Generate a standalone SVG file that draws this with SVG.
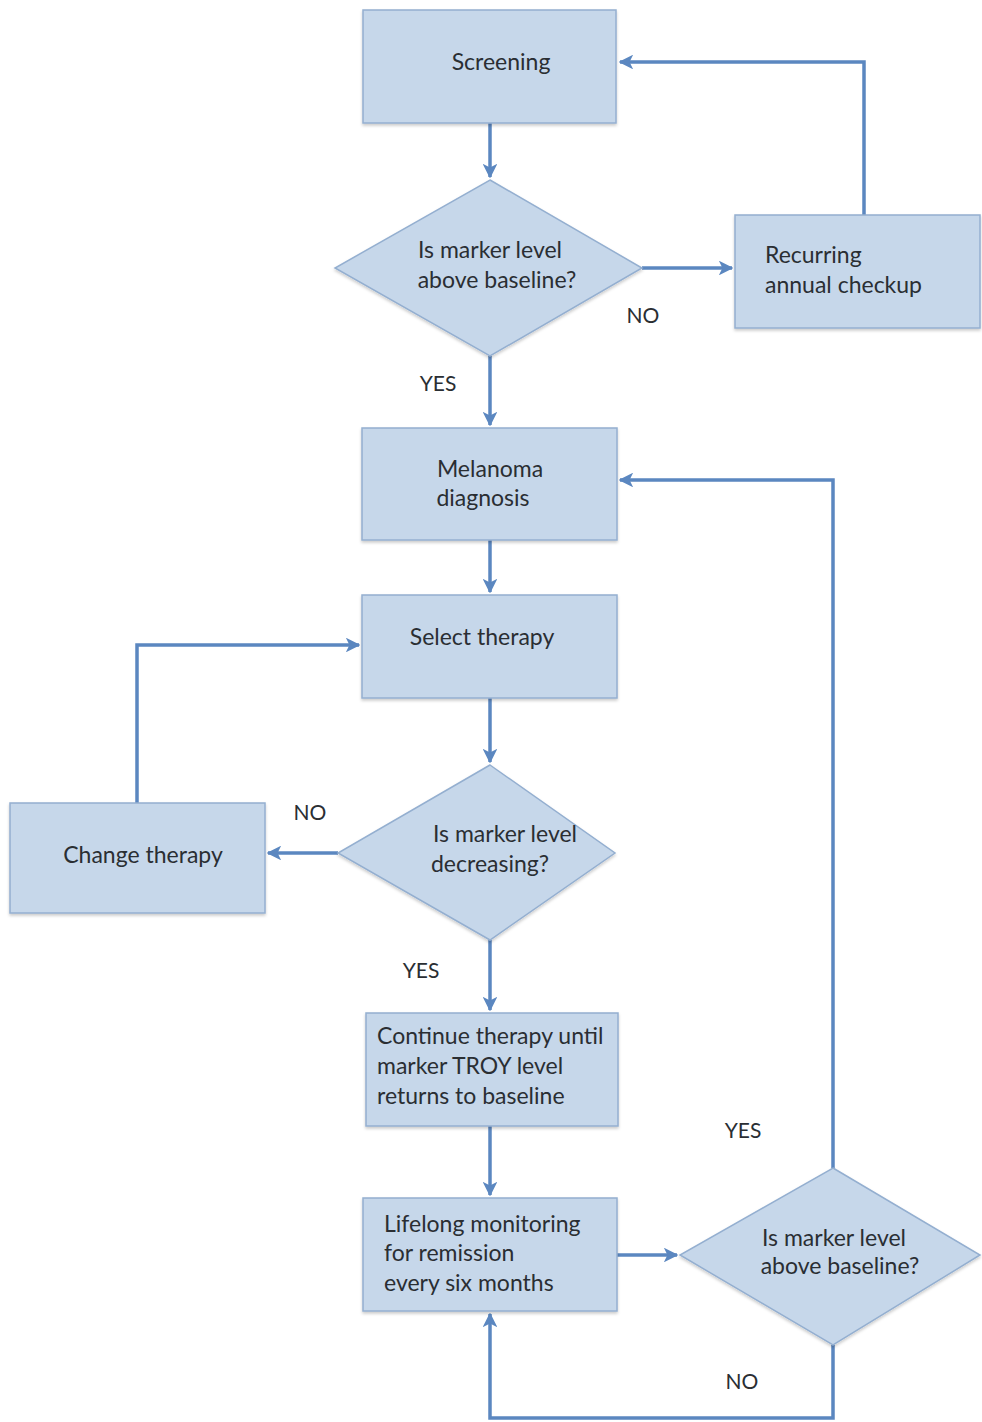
<svg xmlns="http://www.w3.org/2000/svg" width="982" height="1422" viewBox="0 0 982 1422">
<style>
.box{fill:#c6d7ea;stroke:#94afd0;stroke-width:1.5}
.t{font-family:Lato,"Open Sans","Liberation Sans",sans-serif;font-size:23px;fill:#2a2e33}
.c{text-anchor:middle}
.lbl{font-family:Lato,"Open Sans","Liberation Sans",sans-serif;font-size:21px;fill:#2a2e33;text-anchor:middle}
.cn{fill:none;stroke:#5b87c0;stroke-width:3.5}
</style>
<defs>
<marker id="ah" viewBox="0 0 10 10" refX="9" refY="5" markerWidth="4.2" markerHeight="4.2" orient="auto" markerUnits="strokeWidth">
<path d="M0,0 L10,5 L0,10 L2.5,5 z" fill="#5b87c0"/>
</marker>
<filter id="sh" x="-10%" y="-10%" width="120%" height="125%">
<feDropShadow dx="0" dy="2" stdDeviation="1.5" flood-color="#000" flood-opacity="0.2"/>
</filter>
</defs>
<rect width="982" height="1422" fill="#ffffff"/>

<g id="connectors">
<path class="cn" d="M490,123 L490,177" marker-end="url(#ah)"/>
<path class="cn" d="M642,268 L732,268" marker-end="url(#ah)"/>
<path class="cn" d="M864,215 L864,62 L620,62" marker-end="url(#ah)"/>
<path class="cn" d="M490,356 L490,425" marker-end="url(#ah)"/>
<path class="cn" d="M490,540 L490,592" marker-end="url(#ah)"/>
<path class="cn" d="M490,698 L490,762" marker-end="url(#ah)"/>
<path class="cn" d="M338,853 L268,853" marker-end="url(#ah)"/>
<path class="cn" d="M137,803 L137,645 L359,645" marker-end="url(#ah)"/>
<path class="cn" d="M490,940 L490,1010" marker-end="url(#ah)"/>
<path class="cn" d="M490,1126 L490,1195" marker-end="url(#ah)"/>
<path class="cn" d="M617,1255 L677,1255" marker-end="url(#ah)"/>
<path class="cn" d="M833,1168 L833,480 L620,480" marker-end="url(#ah)"/>
<path class="cn" d="M833,1345 L833,1418 L490,1418 L490,1314" marker-end="url(#ah)"/>
<text class="lbl" x="643" y="323">NO</text>
<text class="lbl" x="438" y="391">YES</text>
<text class="lbl" x="310" y="820">NO</text>
<text class="lbl" x="421" y="978">YES</text>
<text class="lbl" x="743" y="1138">YES</text>
<text class="lbl" x="742" y="1389">NO</text>
</g>

<g id="screening">
<rect class="box" x="363" y="10" width="253" height="113" filter="url(#sh)"/>
<text class="t c" x="501" y="70">Screening</text>
</g>

<g id="decision1">
<polygon class="box" points="490,180 642,268 490,356 335,268" filter="url(#sh)"/>
<text class="t c" x="490" y="258">Is marker level</text>
<text class="t c" x="497" y="288">above baseline?</text>
</g>

<g id="recurring">
<rect class="box" x="735" y="215" width="245" height="113" filter="url(#sh)"/>
<text class="t" x="765" y="263">Recurring</text>
<text class="t" x="765" y="293">annual checkup</text>
</g>

<g id="melanoma">
<rect class="box" x="362" y="428" width="255" height="112" filter="url(#sh)"/>
<text class="t c" x="490" y="477">Melanoma</text>
<text class="t c" x="483" y="506">diagnosis</text>
</g>

<g id="select">
<rect class="box" x="362" y="595" width="255" height="103" filter="url(#sh)"/>
<text class="t c" x="482" y="645">Select therapy</text>
</g>

<g id="decision2">
<polygon class="box" points="490,765 615,853 490,940 338,853" filter="url(#sh)"/>
<text class="t c" x="505" y="842">Is marker level</text>
<text class="t c" x="490" y="872">decreasing?</text>
</g>

<g id="change">
<rect class="box" x="10" y="803" width="255" height="110" filter="url(#sh)"/>
<text class="t c" x="143" y="863">Change therapy</text>
</g>

<g id="continue">
<rect class="box" x="366" y="1013" width="252" height="113" filter="url(#sh)"/>
<text class="t" x="377" y="1044">Continue therapy until</text>
<text class="t" x="377" y="1074">marker TROY level</text>
<text class="t" x="377" y="1104">returns to baseline</text>
</g>

<g id="lifelong">
<rect class="box" x="363" y="1198" width="254" height="113" filter="url(#sh)"/>
<text class="t" x="384" y="1232">Lifelong monitoring</text>
<text class="t" x="384" y="1261">for remission</text>
<text class="t" x="384" y="1291">every six months</text>
</g>

<g id="decision3">
<polygon class="box" points="833,1168 980,1255 833,1345 680,1255" filter="url(#sh)"/>
<text class="t c" x="834" y="1246">Is marker level</text>
<text class="t c" x="840" y="1274">above baseline?</text>
</g>
</svg>
